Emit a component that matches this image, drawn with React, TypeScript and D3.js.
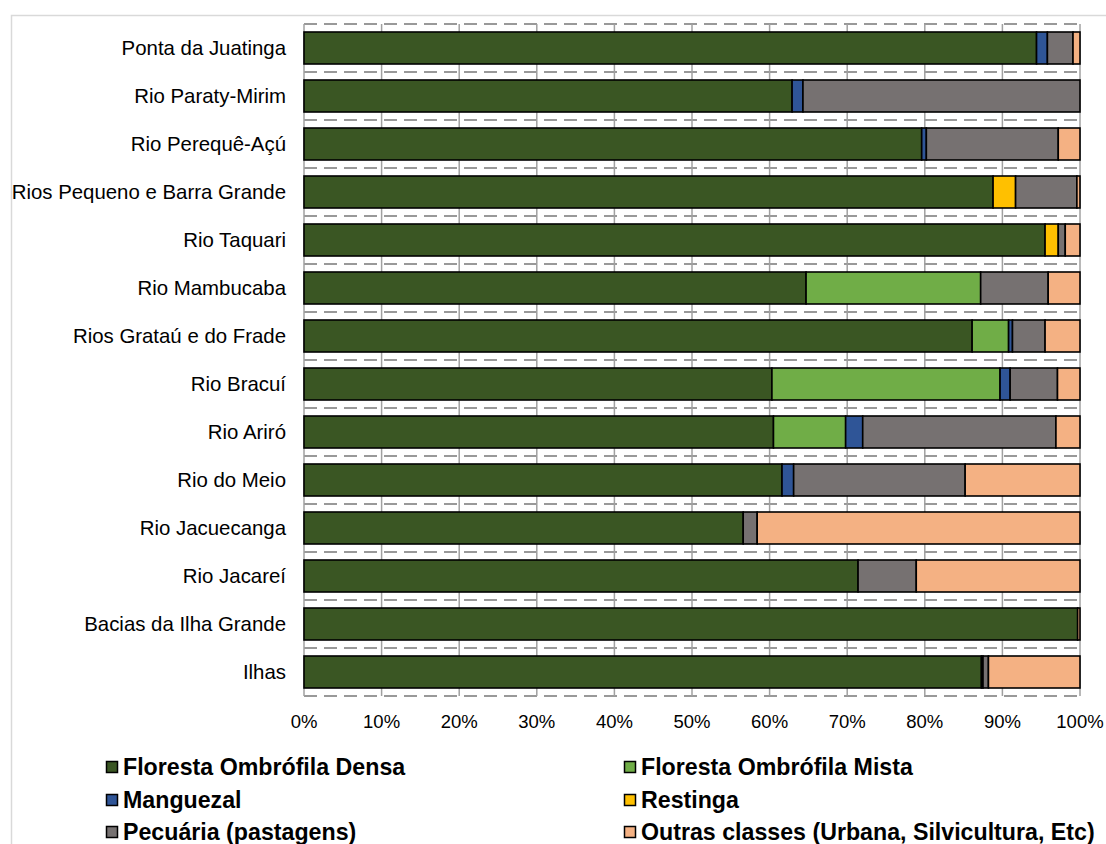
import React from "react";
import * as d3 from "d3";

const categories = [
  "Ponta da Juatinga",
  "Rio Paraty-Mirim",
  "Rio Perequê-Açú",
  "Rios Pequeno e Barra Grande",
  "Rio Taquari",
  "Rio Mambucaba",
  "Rios Grataú e do Frade",
  "Rio Bracuí",
  "Rio Ariró",
  "Rio do Meio",
  "Rio Jacuecanga",
  "Rio Jacareí",
  "Bacias da Ilha Grande",
  "Ilhas",
];

const seriesNames = [
  "Floresta Ombrófila Densa",
  "Floresta Ombrófila Mista",
  "Manguezal",
  "Restinga",
  "Pecuária (pastagens)",
  "Outras classes (Urbana, Silvicultura, Etc)",
];

const densa = [94.4, 62.9, 79.6, 88.8, 95.5, 64.7, 86.1, 60.3, 60.5, 61.6, 56.6, 71.4, 99.7, 87.3];
const mista = [0, 0, 0, 0, 0, 22.5, 4.7, 29.4, 9.3, 0, 0, 0, 0, 0];
const manguezal = [1.4, 1.4, 0.6, 0, 0, 0, 0.5, 1.3, 2.2, 1.5, 0, 0, 0, 0.2];
const restinga = [0, 0, 0, 2.9, 1.7, 0, 0, 0, 0, 0, 0, 0, 0, 0];
const pecuaria = [3.3, 35.7, 17.0, 7.9, 0.9, 8.7, 4.2, 6.1, 24.9, 22.1, 1.8, 7.5, 0, 0.7];
const outras = [0.9, 0, 2.8, 0.4, 1.9, 4.1, 4.5, 2.9, 3.1, 14.8, 41.6, 21.1, 0.3, 11.8];

const xTicks = [0, 10, 20, 30, 40, 50, 60, 70, 80, 90, 100];

const colors = ["#3a5623", "#70ad47", "#2f5597", "#ffc000", "#767171", "#f4b183"];

const FONT = "'Liberation Sans', Arial, Helvetica, sans-serif";

export default function App() {
  const W = 1106;
  const H = 844;
  const x = d3.scaleLinear().domain([0, 100]).range([304, 1080]);
  const y = d3
    .scaleBand<string>()
    .domain(categories)
    .range([24, 696])
    .paddingInner(1 / 3)
    .paddingOuter(1 / 6);
  const step = y.step();

  const allSeries = [densa, mista, manguezal, restinga, pecuaria, outras];
  const rows = categories.map((c, i) => {
    const o: Record<string, any> = { cat: c };
    seriesNames.forEach((s, j) => (o[s] = allSeries[j][i]));
    return o;
  });
  const stacked = d3.stack<any>().keys(seriesNames)(rows);

  const boundaries = d3.range(categories.length + 1).map((k) => 24 + k * step);

  const legendPos = [
    { x: 106, y: 767 },
    { x: 624, y: 767 },
    { x: 106, y: 800 },
    { x: 624, y: 800 },
    { x: 106, y: 832 },
    { x: 624, y: 832 },
  ];

  return (
    <div style={{ position: "absolute", left: 0, top: 0 }}>
      <svg width={W} height={H} style={{ display: "block", fontFamily: FONT }}>
        <rect x={0} y={0} width={W} height={H} fill="#ffffff" />
        <rect x={11.5} y={15.5} width={W + 20} height={H + 20} fill="none" stroke="#d9d9d9" strokeWidth={1.5} />
        {boundaries.map((b, i) => (
          <line
            key={"h" + i}
            x1={x(0)}
            x2={x(100)}
            y1={b}
            y2={b}
            stroke="#999999"
            strokeWidth={2}
            strokeDasharray="13,7"
          />
        ))}
        {xTicks.map((t) => (
          <line key={"v" + t} x1={x(t)} x2={x(t)} y1={24} y2={696} stroke="#a0a0a0" strokeWidth={1.5} />
        ))}
        {stacked.map((layer, j) => (
          <g key={"s" + j}>
            {layer.map((d, i) => {
              const w = x(d[1]) - x(d[0]);
              if (allSeries[j][i] <= 0) return null;
              return (
                <rect
                  key={i}
                  x={x(d[0])}
                  y={y(categories[i])}
                  width={w}
                  height={y.bandwidth()}
                  fill={colors[j]}
                  stroke="#000000"
                  strokeWidth={1.6}
                />
              );
            })}
          </g>
        ))}
        {categories.map((c) => (
          <text
            key={c}
            x={286}
            y={(y(c) as number) + y.bandwidth() / 2}
            textAnchor="end"
            dominantBaseline="central"
            fontSize={20.4}
            fill="#000000"
          >
            {c}
          </text>
        ))}
        {xTicks.map((t) => (
          <text
            key={"t" + t}
            x={x(t)}
            y={721}
            textAnchor="middle"
            dominantBaseline="central"
            fontSize={18.5}
            fill="#000000"
          >
            {t + "%"}
          </text>
        ))}
        {seriesNames.map((s, j) => (
          <g key={"l" + j}>
            <rect
              x={legendPos[j].x + 0.5}
              y={legendPos[j].y - 5.5}
              width={11}
              height={11}
              fill={colors[j]}
              stroke="#000000"
              strokeWidth={1.5}
            />
            <text
              x={legendPos[j].x + 17}
              y={legendPos[j].y}
              dominantBaseline="central"
              fontSize={23.2}
              fontWeight="bold"
              fill="#000000"
            >
              {s}
            </text>
          </g>
        ))}
      </svg>
    </div>
  );
}
